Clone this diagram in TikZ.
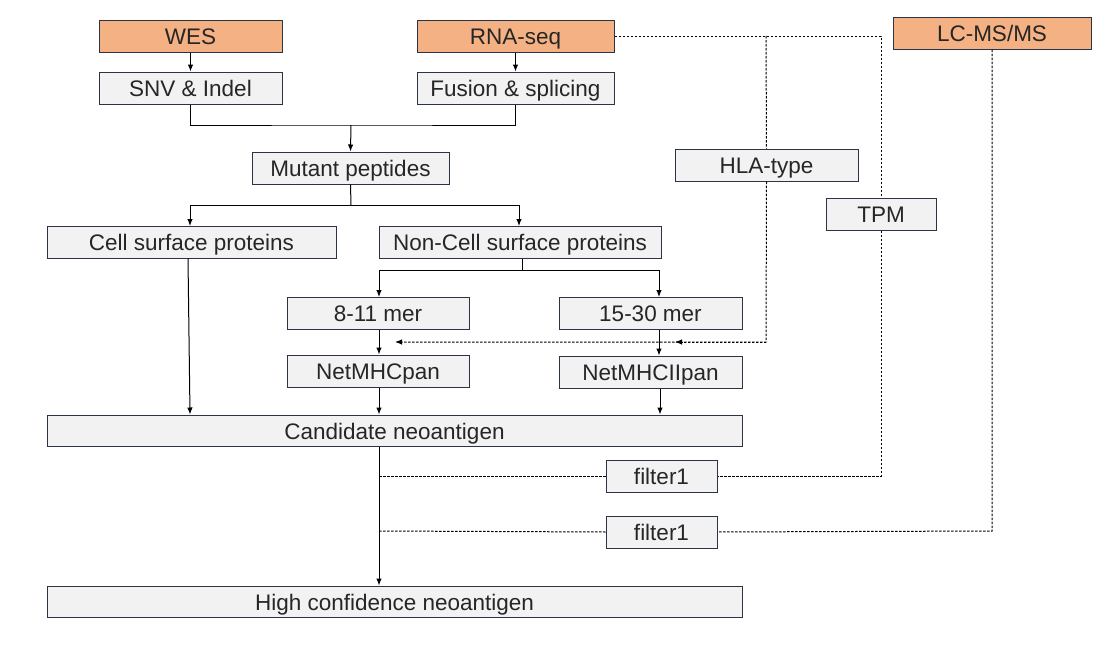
\documentclass[tikz,border=0pt]{standalone}
\usepackage{fontspec}
\setmainfont{Liberation Sans}
\usetikzlibrary{arrows.meta}
\definecolor{orangefill}{HTML}{F4B183}
\definecolor{grayfill}{HTML}{F2F2F2}
\definecolor{edgecol}{HTML}{2B3445}
\tikzset{
  box/.style={draw=edgecol, line width=1pt, fill=grayfill, inner sep=0pt, minimum height=32pt,
    text height=17pt, text depth=0pt,
    font=\fontsize{22.5}{26}\selectfont, text=black!85},
  srcbox/.style={box, fill=orangefill},
  conn/.style={line width=1pt, black},
  arr/.style={conn, -{Latex[length=7pt,width=5.5pt]}},
  dot/.style={line width=1pt, black, dash pattern=on 2.5pt off 1.5pt},
  dotarr/.style={dot, -{Latex[length=7pt,width=5.5pt]}}
}
\begin{document}
\begin{tikzpicture}[x=1pt,y=-1pt]
\useasboundingbox[fill=white] (0,0) rectangle (1096,645);
% nodes
\node[srcbox, minimum width=183pt] (wes) at (190.5,36) {WES};
\node[srcbox, minimum width=197pt] (rna) at (515.5,36) {RNA-seq};
\node[srcbox, minimum width=198pt] (lcms) at (992,33) {LC-MS/MS};
\node[box, minimum width=183pt] (snv) at (190.5,88) {SNV \& Indel};
\node[box, minimum width=197pt] (fus) at (515.5,88) {Fusion \& splicing};
\node[box, minimum width=197pt] (mut) at (350.5,168) {Mutant peptides};
\node[box, minimum width=289pt] (cell) at (191.5,242) {Cell surface proteins};
\node[box, minimum width=282pt] (noncell) at (520,242) {Non-Cell surface proteins};
\node[box, minimum width=182pt] (mer8) at (378,313) {8-11 mer};
\node[box, minimum width=183pt] (mer15) at (650.5,313) {15-30 mer};
\node[box, minimum width=182pt] (netI) at (378,371) {NetMHCpan};
\node[box, minimum width=183pt] (netII) at (650.5,372) {NetMHCIIpan};
\node[box, minimum width=695pt, minimum height=31pt] (cand) at (394.5,430.5) {Candidate neoantigen};
\node[box, minimum width=695pt, minimum height=31pt] (high) at (394.5,601.5) {High confidence neoantigen};
\node[box, minimum width=111pt] (fa) at (661.5,476) {filter1};
\node[box, minimum width=111pt] (fb) at (661.5,532) {filter1};
\node[box, minimum width=183pt] (hla) at (766.5,165) {HLA-type};
\node[box, minimum width=110pt] (tpm) at (881,214) {TPM};
% coordinates
\coordinate (m1) at (351,125);
\coordinate (s1) at (351,205);
\coordinate (s2) at (522,270);
\coordinate (rnaTurn) at (881,36);
\coordinate (hlaTurn) at (766,36);
\coordinate (hlaLow) at (766,342);
\coordinate (tip1) at (395,342);
\coordinate (tip2) at (675,342);
\coordinate (tpmLow) at (881,476);
\coordinate (lcLow) at (992,531);
\coordinate (fa0) at (380,476);
\coordinate (fb0) at (380,531);
% solid connectors
\draw[arr] (wes.south) -- (snv.north);
\draw[arr] (rna.south) -- (fus.north);
\draw[conn] (snv.south) |- (m1) -| (fus.south);
\draw[arr] (m1) -- (mut.north);
\draw[conn] (mut.south) -- (s1);
\draw[arr] (s1) -| (190,226);
\draw[arr] (s1) -| (519,226);
\draw[conn] (noncell.south -| s2) -- (s2);
\draw[arr] (s2) -| (379,297);
\draw[arr] (s2) -| (659,297);
\draw[arr] (mer8.south -| 379,0) -- (netI.north -| 379,0);
\draw[arr] (mer15.south -| 659,0) -- (netII.north -| 659,0);
\draw[arr] (netI.south -| 379,0) -- (cand.north -| 379,0);
\draw[arr] (netII.south -| 660,0) -- (cand.north -| 660,0);
\draw[arr] (cell.south -| 188,0) -- (cand.north -| 190,0);
\draw[arr] (cand.south -| 379,0) -- (high.north -| 379,0);
% dotted connectors
\draw[dot] (rna.east) -- (rnaTurn) -- (tpm.north);
\draw[dot] (tpm.south) -- (tpmLow) -- (fa.east);
\draw[dot] (hlaTurn) -- (hla.north);
\draw[dotarr] (hla.south) -- (hlaLow) -- (tip1);
\draw[dotarr] (hlaLow) -- (tip2);
\draw[dot] (lcms.south) -- (lcLow) -- (fb.east);
\draw[dot] (fa.west) -- (fa0);
\draw[dot] (fb.west) -- (fb0);
\end{tikzpicture}
\end{document}
